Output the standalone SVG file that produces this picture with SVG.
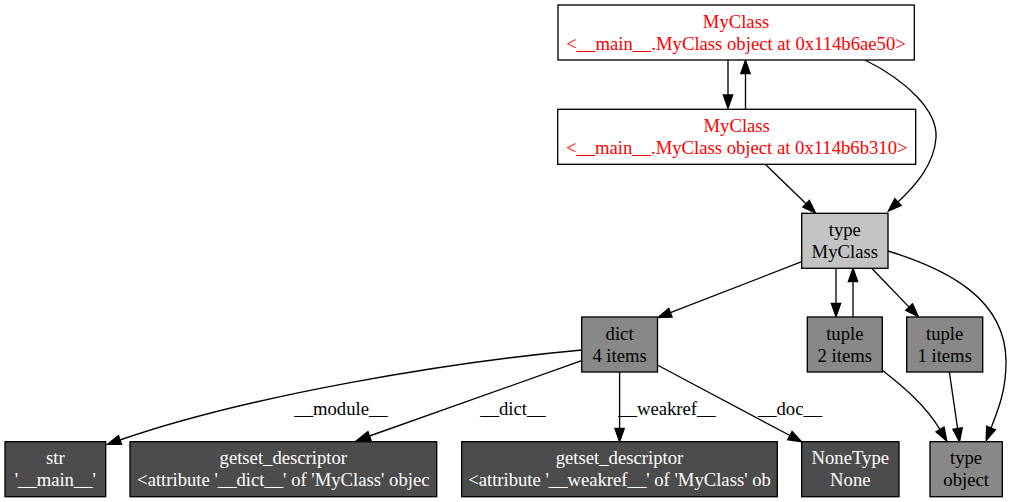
<svg xmlns="http://www.w3.org/2000/svg" width="1011" height="502" viewBox="0 0 1011 502">
<defs>
<style>
.n rect{stroke:#000;stroke-width:1.33}
.w rect{fill:#fff}
.l1 rect{fill:#c3c3c3}
.l2 rect{fill:#888888}
.l3 rect{fill:#4c4c4c}
text{font-family:"Liberation Serif","Times New Roman",serif;font-size:18.67px;text-anchor:middle}
.w text{fill:#ff0000}
.l1 text,.l2 text{fill:#000}
.l3 text{fill:#fff}
.e path{fill:none;stroke:#000;stroke-width:1.33;marker-end:url(#ah)}
.e text{fill:#000}
</style>
<marker id="ah" markerUnits="userSpaceOnUse" viewBox="0 0 14 10" markerWidth="14" markerHeight="10" refX="0" refY="4.67" orient="auto" overflow="visible">
<path d="M0,0 L13.3,4.67 L0,9.33 z" fill="#000" stroke="#000" stroke-width="1.33"/>
</marker>
</defs>
<rect width="1011" height="502" fill="#fff"/>
<g id="edges" class="e">
<path d="M728,60 C728,70 728,82 728,95"/>
<path d="M745.5,109 L745.5,73.5"/>
<path d="M865,60 C905,80 938,110 936,138 C934,165 915,186 898,202"/>
<path d="M765,164 L806.1,203.8"/>
<path d="M801.7,261.7 L670.4,312.7"/>
<path d="M836,268.3 L836,303.4"/>
<path d="M853,316.7 L853,281.6"/>
<path d="M871.7,268.3 L909.1,307.1"/>
<path d="M888,251 C950,270 1005,300 1006,360 C1006.5,390 998,410 991,428"/>
<path d="M882,370 C905,388 926,406 940,429.5"/>
<path d="M949.3,371.7 L957.6,428.5"/>
<path d="M582,350 C450,362 250,395 120,440"/>
<path d="M581.7,360.7 L369.5,436"/>
<path d="M619.6,372 L619.6,428.4"/>
<path d="M657.3,365 L789.9,435.5"/>
<text x="341" y="415">__module__</text>
<text x="513" y="415">__dict__</text>
<text x="667" y="415">__weakref__</text>
<text x="790" y="415">__doc__</text>
</g>
<g id="obj1" class="n w">
<rect x="558" y="5" width="356.3" height="55"/>
<text x="736" y="27.5">MyClass</text>
<text x="736" y="49.5">&lt;__main__.MyClass object at 0x114b6ae50&gt;</text>
</g>
<g id="obj2" class="n w">
<rect x="557.7" y="109.3" width="358" height="55"/>
<text x="736.7" y="131.8">MyClass</text>
<text x="736.7" y="153.8">&lt;__main__.MyClass object at 0x114b6b310&gt;</text>
</g>
<g id="typeMyClass" class="n l1">
<rect x="801.7" y="213.3" width="86.3" height="55"/>
<text x="844.8" y="235.8">type</text>
<text x="844.8" y="257.8">MyClass</text>
</g>
<g id="dict" class="n l2">
<rect x="581.7" y="317" width="75.8" height="55"/>
<text x="619.6" y="339.5">dict</text>
<text x="619.6" y="361.5">4 items</text>
</g>
<g id="tuple2" class="n l2">
<rect x="807.3" y="317" width="75" height="55"/>
<text x="844.8" y="339.5">tuple</text>
<text x="844.8" y="361.5">2 items</text>
</g>
<g id="tuple1" class="n l2">
<rect x="906.7" y="317" width="76" height="55"/>
<text x="944.7" y="339.5">tuple</text>
<text x="944.7" y="361.5">1 items</text>
</g>
<g id="str" class="n l3">
<rect x="5" y="441.7" width="100.7" height="55"/>
<text x="55.3" y="464.2">str</text>
<text x="55.3" y="486.2">'__main__'</text>
</g>
<g id="getset1" class="n l3">
<rect x="130" y="441.7" width="306.7" height="55"/>
<text x="283.3" y="464.2">getset_descriptor</text>
<text x="283.3" y="486.2">&lt;attribute '__dict__' of 'MyClass' objec</text>
</g>
<g id="getset2" class="n l3">
<rect x="461.7" y="441.7" width="315.6" height="55"/>
<text x="619.5" y="464.2">getset_descriptor</text>
<text x="619.5" y="486.2">&lt;attribute '__weakref__' of 'MyClass' ob</text>
</g>
<g id="NoneType" class="n l3">
<rect x="801.7" y="441.7" width="97.3" height="55"/>
<text x="850.3" y="464.2">NoneType</text>
<text x="850.3" y="486.2">None</text>
</g>
<g id="typeObject" class="n l2">
<rect x="930" y="441.7" width="72.3" height="55"/>
<text x="966.1" y="464.2">type</text>
<text x="966.1" y="486.2">object</text>
</g>
</svg>
